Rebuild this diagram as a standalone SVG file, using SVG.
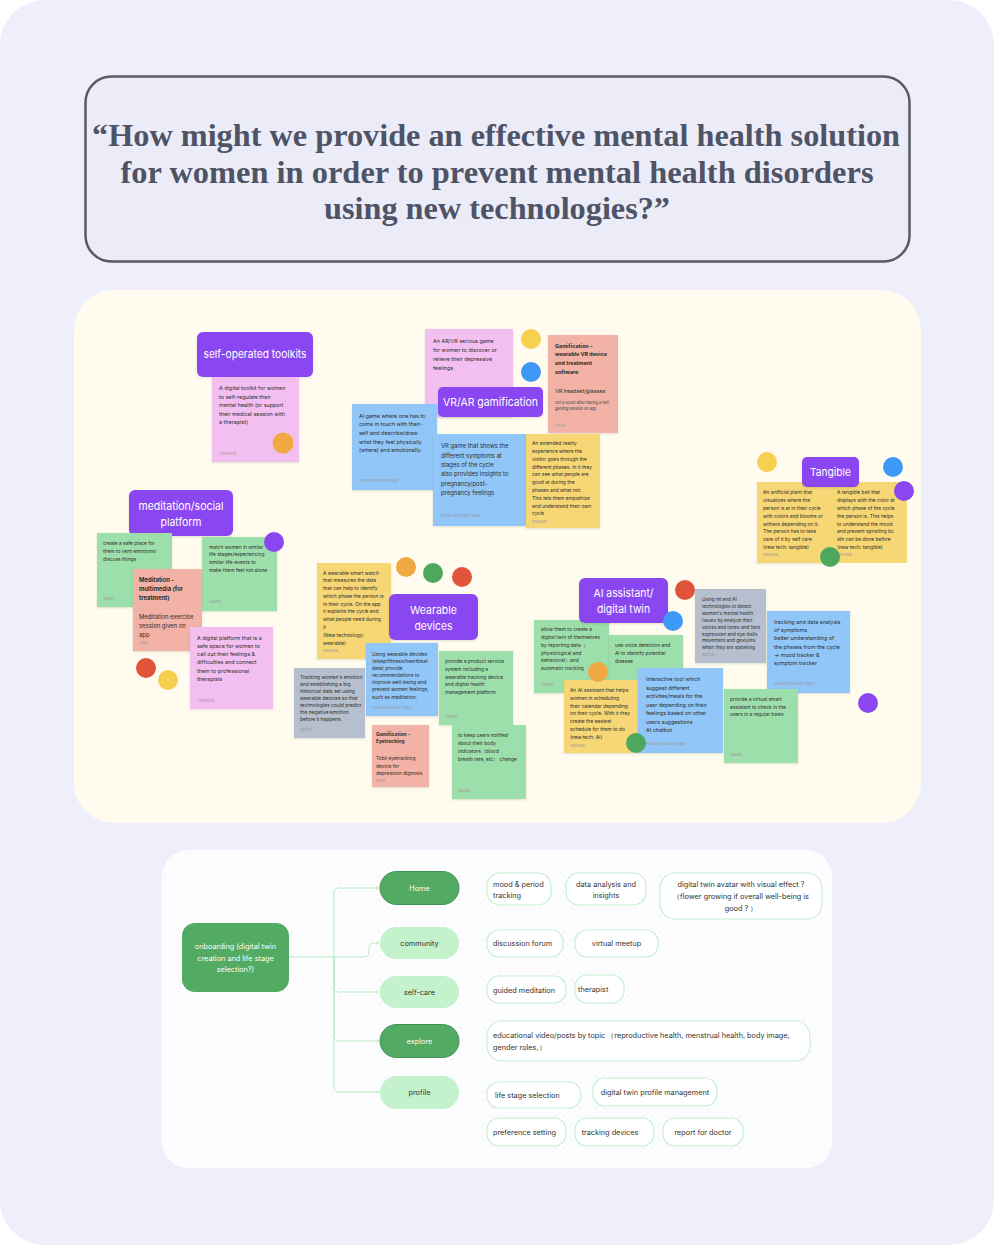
<svg xmlns="http://www.w3.org/2000/svg" width="994" height="1245" viewBox="0 0 994 1245">
<defs>
<style>
.lbl{fill:#8a47f1}
.lt{font-family:Inter,'Liberation Sans',sans-serif;font-size:11px;fill:#fff;text-anchor:middle}
.nt{font-family:Inter,'Liberation Sans',sans-serif;font-size:5.4px;fill:#2e2e2e}
.sm{font-size:4.9px}
.lg{font-size:5.9px}
.b{font-weight:700}
.au{font-family:Inter,'Liberation Sans',sans-serif;font-size:3.8px;fill:#9a9a9a}
.pink{fill:#f3bff0}
.blue{fill:#90c6f8}
.yel{fill:#f7d774}
.grn{fill:#9ddfab}
.sal{fill:#f2b2a5}
.gry{fill:#b5bfcd}
.c-y{fill:#f6d04f}
.c-b{fill:#3e98f5}
.c-o{fill:#f0a843}
.c-g{fill:#4da85e}
.c-r{fill:#e0553a}
.c-p{fill:#8a47f1}
.note{filter:url(#sh)}
.dk{fill:#52aa63;stroke:#3f9150;stroke-width:1}
.lgt{fill:#c3f2cd}
.mt{font-family:Inter,'Liberation Sans',sans-serif;font-size:7.3px;fill:#333;text-anchor:middle}
.mw{fill:#fff}
.leaf{fill:#fff;stroke:#c7f0cf;stroke-width:1.2}
.leaft{font-family:Inter,'Liberation Sans',sans-serif;font-size:7.3px;fill:#333}
.conn{fill:none;stroke:#b6eac1;stroke-width:1}
</style>
<filter id="sh" x="-10%" y="-10%" width="130%" height="130%">
<feDropShadow dx="0" dy="1" stdDeviation="0.8" flood-color="#000" flood-opacity="0.12"/>
</filter>
<pattern id="dots" width="8" height="8" patternUnits="userSpaceOnUse">
<circle cx="4" cy="4" r="0.6" fill="#d9d9e0"/>
</pattern>
<marker id="arr" viewBox="0 0 6 6" refX="5" refY="3" markerWidth="4" markerHeight="4" orient="auto">
<path d="M1,1 L5,3 L1,5" fill="none" stroke="#b6eac1" stroke-width="1"/>
</marker>
</defs>

<rect x="0" y="0" width="994" height="1245" fill="#ffffff"/>
<rect x="0" y="0" width="994" height="1245" rx="45" fill="#efeffb"/>

<g id="header">
<rect x="85.5" y="76.5" width="824" height="185" rx="26" fill="#ececf8" stroke="#5a5a66" stroke-width="2.5"/>
<g font-family="'Liberation Serif',serif" font-weight="700" font-size="31" fill="#4f5366" text-anchor="middle">
<text x="496" y="146" textLength="808" lengthAdjust="spacingAndGlyphs">“How might we provide an effective mental health solution</text>
<text x="497" y="183" textLength="753" lengthAdjust="spacingAndGlyphs">for women in order to prevent mental health disorders</text>
<text x="497" y="219" textLength="346" lengthAdjust="spacingAndGlyphs">using new technologies?”</text>
</g>
</g>

<rect id="board" x="74" y="290" width="847" height="533" rx="40" fill="#fffcef"/>

<!-- self-operated toolkits -->
<g id="self-operated-toolkits">
<rect class="lbl note" x="197" y="332" width="116" height="45" rx="6"/>
<text class="lt" x="255" y="358" textLength="103" lengthAdjust="spacingAndGlyphs">self-operated toolkits</text>
<rect class="pink note" x="212" y="377" width="87" height="85"/>
<text class="nt"><tspan x="219" y="390">A digital toolkit for women</tspan><tspan x="219" y="398.5">to self-regulate their</tspan><tspan x="219" y="407">mental health (or support</tspan><tspan x="219" y="415.5">their medical session with</tspan><tspan x="219" y="424">a therapist)</tspan></text>
<text class="au" x="219" y="455">Chenxi Bi</text>
<circle class="c-o" cx="283" cy="443" r="10.5"/>
</g>

<!-- VR/AR gamification -->
<g id="vr-ar-gamification">
<rect class="pink note" x="425" y="329" width="88" height="88"/>
<text class="nt"><tspan x="433" y="343">An AR/VR serious game</tspan><tspan x="433" y="351.5">for women to discover or</tspan><tspan x="433" y="360.5">relieve their depressive</tspan><tspan x="433" y="369.5">feelings</tspan></text>
<rect class="sal note" x="548" y="335" width="70" height="98"/>
<text class="nt b"><tspan x="555" y="347.7">Gamification -</tspan><tspan x="555" y="356.3">wearable VR device</tspan><tspan x="555" y="365.3">and treatment</tspan><tspan x="555" y="374.3">software</tspan></text>
<text class="nt" x="555" y="393">VR headset/glasses</text>
<text class="au" style="fill:#444"><tspan x="555" y="403.7">Get a score after having a test</tspan><tspan x="555" y="410.3">gaming session on app</tspan></text>
<text class="au" x="555" y="426.5">Alicia</text>
<circle class="c-y" cx="531" cy="339" r="10"/>
<circle class="c-b" cx="531" cy="372" r="10"/>
<rect class="blue note" x="352" y="404" width="85" height="86"/>
<text class="nt"><tspan x="359" y="417.5">AI game where one has to</tspan><tspan x="359" y="426">come in touch with their-</tspan><tspan x="359" y="435">self and describe/draw</tspan><tspan x="359" y="443.5">what they feel physically</tspan><tspan x="359" y="452">(where) and emotionally.</tspan></text>
<text class="au" x="359" y="482">Anna Fernandez-Rajal</text>
<rect class="blue note" x="433" y="434" width="93" height="92"/>
<text class="nt lg"><tspan x="441" y="448">VR game that shows the</tspan><tspan x="441" y="457.5">different symptoms at</tspan><tspan x="441" y="467">stages of the cycle</tspan><tspan x="441" y="476">also provides insights to</tspan><tspan x="441" y="485.5">pregnancy/post-</tspan><tspan x="441" y="495">pregnancy feelings</tspan></text>
<text class="au" x="441" y="517">Anna Fernandez-Rajal</text>
<rect class="yel note" x="526" y="434" width="74" height="94"/>
<text class="nt sm"><tspan x="532" y="444.5">An extended reality</tspan><tspan x="532" y="453">experience where the</tspan><tspan x="532" y="461">visitor goes through the</tspan><tspan x="532" y="468.5">different phases. In it they</tspan><tspan x="532" y="476">can see what people are</tspan><tspan x="532" y="484">good at during the</tspan><tspan x="532" y="492">phases and what not.</tspan><tspan x="532" y="500">This lets them empathize</tspan><tspan x="532" y="507.5">and understand their own</tspan><tspan x="532" y="515">cycle</tspan></text>
<text class="au" x="532" y="522.5">Michelle</text>
<rect class="lbl note" x="438" y="387" width="105" height="30" rx="5"/>
<text class="lt" x="490.5" y="406" textLength="95" lengthAdjust="spacingAndGlyphs">VR/AR gamification</text>
</g>

<!-- Tangible -->
<g id="tangible">
<rect class="yel note" x="757" y="482" width="75" height="81"/>
<rect class="yel" x="832" y="482" width="75" height="81"/>
<text class="nt sm"><tspan x="763" y="494">An artificial plant that</tspan><tspan x="763" y="502">visualizes where the</tspan><tspan x="763" y="510">person is at in their cycle</tspan><tspan x="763" y="518">with colors and blooms or</tspan><tspan x="763" y="525.5">withers depending on it.</tspan><tspan x="763" y="533">The person has to take</tspan><tspan x="763" y="541">care of it by self care</tspan><tspan x="763" y="548.5">(new tech: tangible)</tspan></text>
<text class="au" x="763" y="555.5">Michelle</text>
<text class="nt sm"><tspan x="837" y="494">A tangible ball that</tspan><tspan x="837" y="502">displays with the color at</tspan><tspan x="837" y="510">which phase of the cycle</tspan><tspan x="837" y="518">the person is. This helps</tspan><tspan x="837" y="525.5">to understand the mood</tspan><tspan x="837" y="533">and prevent spiralling bc</tspan><tspan x="837" y="541">sth can be done before</tspan><tspan x="837" y="548.5">(new tech: tangible)</tspan></text>
<text class="au" x="837" y="555.5">Michelle</text>
<rect class="lbl note" x="802" y="457" width="57" height="30" rx="5"/>
<text class="lt" x="830.5" y="476" textLength="41" lengthAdjust="spacingAndGlyphs">Tangible</text>
<circle class="c-y" cx="767" cy="462" r="10"/>
<circle class="c-b" cx="893" cy="467" r="10"/>
<circle class="c-p" cx="904" cy="491" r="10"/>
<circle class="c-g" cx="830" cy="557" r="10"/>
</g>

<!-- meditation/social platform -->
<g id="meditation-social-platform">
<rect class="lbl note" x="129" y="490" width="104" height="46" rx="6"/>
<text class="lt" x="181" y="510" textLength="85" lengthAdjust="spacingAndGlyphs">meditation/social</text>
<text class="lt" x="181" y="525.5" textLength="41" lengthAdjust="spacingAndGlyphs">platform</text>
<rect class="grn note" x="97" y="533" width="75" height="74"/>
<text class="nt sm"><tspan x="103" y="545">create a safe place for</tspan><tspan x="103" y="553">them to vent emotions/</tspan><tspan x="103" y="560.5">discuss things</tspan></text>
<text class="au" x="103" y="600">Xiaolin</text>
<rect class="grn note" x="202" y="537" width="75" height="74"/>
<text class="nt sm"><tspan x="209" y="548.5">match women in similar</tspan><tspan x="209" y="556">life stages/experiencing</tspan><tspan x="209" y="564">similar life-events to</tspan><tspan x="209" y="571.5">make them feel not alone</tspan></text>
<text class="au" x="209" y="603">Xiaolin</text>
<circle class="c-p" cx="274" cy="542" r="10"/>
<rect class="sal note" x="133" y="569" width="69" height="82"/>
<text class="nt b lg"><tspan x="139" y="581.5">Meditation -</tspan><tspan x="139" y="591">multimedia (for</tspan><tspan x="139" y="600">treatment)</tspan></text>
<text class="nt lg"><tspan x="139" y="618.5">Meditation exercise</tspan><tspan x="139" y="627.5">session given on</tspan><tspan x="139" y="636.5">app</tspan></text>
<text class="au" x="139" y="644">Alina</text>
<rect class="pink note" x="190" y="627" width="83" height="82"/>
<text class="nt"><tspan x="197" y="640.3">A digital platform that is a</tspan><tspan x="197" y="648.3">safe space for women to</tspan><tspan x="197" y="656.3">call out their feelings &amp;</tspan><tspan x="197" y="664.3">difficulties and connect</tspan><tspan x="197" y="672.7">them to professional</tspan><tspan x="197" y="681">therapists</tspan></text>
<text class="au" x="197" y="701.5">Chenxi Bi</text>
<circle class="c-r" cx="146" cy="668" r="10"/>
<circle class="c-y" cx="168" cy="680" r="10"/>
</g>

<!-- Wearable devices -->
<g id="wearable-devices">
<rect class="yel note" x="317" y="563" width="74" height="96"/>
<text class="nt sm"><tspan x="323" y="574.5">A wearable smart watch</tspan><tspan x="323" y="582">that measures the data</tspan><tspan x="323" y="590">that can help to identify</tspan><tspan x="323" y="598">which phase the person is</tspan><tspan x="323" y="605.5">in their cycle. On the app</tspan><tspan x="323" y="613">it explains the cycle and</tspan><tspan x="323" y="621">what people need during</tspan><tspan x="323" y="629">it</tspan><tspan x="323" y="637">(New technology:</tspan><tspan x="323" y="644.5">wearable)</tspan></text>
<text class="au" x="323" y="651.5">Michelle</text>
<circle class="c-o" cx="406" cy="567" r="10"/>
<circle class="c-g" cx="433" cy="573" r="10"/>
<circle class="c-r" cx="462" cy="577" r="10"/>
<rect class="lbl note" x="389" y="594" width="89" height="46" rx="6"/>
<text class="lt" x="433.5" y="613.5" textLength="47" lengthAdjust="spacingAndGlyphs">Wearable</text>
<text class="lt" x="433.5" y="629.5" textLength="38" lengthAdjust="spacingAndGlyphs">devices</text>
<rect class="blue note" x="366" y="643" width="72" height="73"/>
<text class="nt sm"><tspan x="372" y="655.5">Using wearable devides</tspan><tspan x="372" y="662.5">(sleep/fitness/heartbeat</tspan><tspan x="372" y="669.5">data) provide</tspan><tspan x="372" y="676.7">recommendations to</tspan><tspan x="372" y="684">improve well-being and</tspan><tspan x="372" y="691">prevent women feelings,</tspan><tspan x="372" y="698.5">such as meditation.</tspan></text>
<text class="au" x="372" y="709">Anna Fernandez-Rajal</text>
<rect class="gry note" x="294" y="668" width="71" height="70"/>
<text class="nt sm"><tspan x="300" y="679">Tracking women's emotion</tspan><tspan x="300" y="686">and establishing a big</tspan><tspan x="300" y="693">historical data set using</tspan><tspan x="300" y="700">wearable devices so that</tspan><tspan x="300" y="707">technologies could predict</tspan><tspan x="300" y="714">the negative emotion</tspan><tspan x="300" y="721.4">before it happens.</tspan></text>
<text class="au" x="300" y="731">patrick</text>
<rect class="sal note" x="372" y="725" width="57" height="62"/>
<text class="nt b sm"><tspan x="376" y="735.8">Gamification -</tspan><tspan x="376" y="743">Eyetracking</tspan></text>
<text class="nt sm"><tspan x="376" y="760">Tobii eyetracking</tspan><tspan x="376" y="767.7">device for</tspan><tspan x="376" y="775.4">depression dignosis</tspan></text>
<text class="au" x="376" y="782">Alina</text>
<rect class="grn note" x="439" y="651" width="74" height="74"/>
<text class="nt sm"><tspan x="445" y="662.8"> provide a product service</tspan><tspan x="445" y="670.8">system including a</tspan><tspan x="445" y="678.5">wearable  tracking device</tspan><tspan x="445" y="686">and digital health</tspan><tspan x="445" y="693.8">management platform</tspan></text>
<text class="au" x="445" y="717.5">Xiaolin</text>
<rect class="grn note" x="452" y="725" width="74" height="74"/>
<text class="nt sm"><tspan x="458" y="736.8">to keep users notified</tspan><tspan x="458" y="744.5">about their body</tspan><tspan x="458" y="752.5">indicators（blood，</tspan><tspan x="458" y="760.5">breath rate, etc） change</tspan></text>
<text class="au" x="458" y="791.5">Xiaolin</text>
</g>

<!-- AI assistant / digital twin -->
<g id="ai-assistant-digital-twin">
<rect class="gry note" x="695" y="589" width="71" height="74"/>
<text class="nt" style="font-size:4.7px"><tspan x="702" y="600.7">Using ml and AI</tspan><tspan x="702" y="607.7">technologies to detect</tspan><tspan x="702" y="614.7">women's mental health</tspan><tspan x="702" y="621.7">issues by analyze their</tspan><tspan x="702" y="628.7">voices and tones and face</tspan><tspan x="702" y="635.7">expression and eye-balls</tspan><tspan x="702" y="642.4">movement and gestures</tspan><tspan x="702" y="649.4">when they are speaking.</tspan></text>
<text class="au" x="702" y="656.3">patrick</text>
<rect class="blue note" x="767" y="611" width="83" height="82"/>
<text class="nt"><tspan x="774" y="623.7">tracking and data analysis</tspan><tspan x="774" y="632">of symptoms</tspan><tspan x="774" y="640.3">better understanding of</tspan><tspan x="774" y="648.7">the phases from the cycle</tspan><tspan x="774" y="657">→ mood tracker &amp;</tspan><tspan x="774" y="665.3">symptom tracker</tspan></text>
<text class="au" x="774" y="685.3">Anna Fernandez-Rajal</text>
<rect class="grn note" x="724" y="689" width="74" height="74"/>
<text class="nt sm"><tspan x="730" y="701">provide a virtual smart</tspan><tspan x="730" y="708.7">assistant to check in the</tspan><tspan x="730" y="716.4">users in a regular basis</tspan></text>
<text class="au" x="730" y="755.6">Xiaolin</text>
<rect class="grn note" x="534" y="620" width="75" height="73"/>
<text class="nt sm"><tspan x="541" y="631">allow them to create a</tspan><tspan x="541" y="639">digital twin of themselves</tspan><tspan x="541" y="647">by reporting data（</tspan><tspan x="541" y="654.7">physiological and</tspan><tspan x="541" y="662.4">behavioral）and</tspan><tspan x="541" y="670">automatic tracking</tspan></text>
<text class="au" x="541" y="685.6">Xiaolin</text>
<rect class="grn note" x="609" y="635" width="74" height="74"/>
<text class="nt sm"><tspan x="615" y="647">use voice detection and</tspan><tspan x="615" y="654.7">AI to identify potential</tspan><tspan x="615" y="662.7">disease</tspan></text>
<rect class="lbl note" x="579" y="578" width="89" height="45" rx="6"/>
<text class="lt" x="623.5" y="596.5" textLength="60" lengthAdjust="spacingAndGlyphs">AI assistant/</text>
<text class="lt" x="623.5" y="612.5" textLength="53" lengthAdjust="spacingAndGlyphs">digital twin</text>
<circle class="c-r" cx="685" cy="590" r="10"/>
<circle class="c-b" cx="673" cy="621" r="10"/>
<rect class="yel note" x="564" y="680" width="74" height="73"/>
<text class="nt sm"><tspan x="570" y="692">An AI assistant that helps</tspan><tspan x="570" y="699.7">women in scheduling</tspan><tspan x="570" y="707.7">their calendar depending</tspan><tspan x="570" y="715.4">on their cycle. With it they</tspan><tspan x="570" y="723.4">create the easiest</tspan><tspan x="570" y="731">schedule for them to do</tspan><tspan x="570" y="738.7">(new tech: AI)</tspan></text>
<text class="au" x="570" y="747">Michelle</text>
<rect class="blue note" x="638" y="668" width="85" height="85"/>
<text class="nt"><tspan x="646" y="681.3">Interactive tool which</tspan><tspan x="646" y="689.7">suggest different</tspan><tspan x="646" y="698.3">activites/meals for the</tspan><tspan x="646" y="706.7">user depending on their</tspan><tspan x="646" y="715.3">feelings based on other</tspan><tspan x="646" y="723.7">users suggestions</tspan><tspan x="646" y="732.3">AI chatbot</tspan></text>
<text class="au" x="646" y="744.6">Anna Fernandez-Rajal</text>
<circle class="c-o" cx="598" cy="672" r="10"/>
<circle class="c-g" cx="636" cy="743" r="10"/>
<circle class="c-p" cx="868" cy="703" r="10"/>
</g>

<!-- bottom mind map -->
<rect id="map-panel" x="162" y="850" width="670" height="318" rx="26" fill="#fdfdff"/>
<rect x="162" y="850" width="670" height="318" rx="26" fill="url(#dots)"/>

<g id="connectors">
<path class="conn" d="M289,957 H334"/>
<path class="conn" marker-end="url(#arr)" d="M334,957 V893 Q334,888 339,888 H379"/>
<path class="conn" marker-end="url(#arr)" d="M334,957 H364 Q369,957 369,952 V948 Q369,943 374,943 H379"/>
<path class="conn" marker-end="url(#arr)" d="M334,957 V987 Q334,992 339,992 H379"/>
<path class="conn" marker-end="url(#arr)" d="M334,957 V1036 Q334,1041 339,1041 H379"/>
<path class="conn" marker-end="url(#arr)" d="M334,957 V1087 Q334,1092 339,1092 H379"/>
</g>

<g id="onboarding">
<rect x="182" y="923" width="107" height="69" rx="13" fill="#52aa63"/>
<text class="mt mw"><tspan x="235.5" y="949.3">onboarding (digital twin</tspan><tspan x="235.5" y="960.6">creation and life stage</tspan><tspan x="235.5" y="971.9">selection?)</tspan></text>
</g>
<g id="home"><rect class="dk" x="380" y="871.5" width="79" height="33" rx="16.5"/><text class="mt mw" x="419.5" y="890.7">Home</text></g>
<g id="community"><rect class="lgt" x="380" y="927" width="79" height="32" rx="16"/><text class="mt" x="419.5" y="945.7">community</text></g>
<g id="self-care"><rect class="lgt" x="380" y="976" width="79" height="32" rx="16"/><text class="mt" x="419.5" y="994.7">self-care</text></g>
<g id="explore"><rect class="dk" x="380" y="1024.5" width="79" height="33" rx="16.5"/><text class="mt mw" x="419.5" y="1043.7">explore</text></g>
<g id="profile"><rect class="lgt" x="380" y="1076" width="79" height="33" rx="16.5"/><text class="mt" x="419.5" y="1095">profile</text></g>

<g id="mood-period-tracking"><rect class="leaf" x="487" y="873" width="64" height="32" rx="13"/><text class="leaft"><tspan x="493" y="886.5">mood &amp; period</tspan><tspan x="493" y="898.3">tracking</tspan></text></g>
<g id="data-analysis"><rect class="leaf" x="566" y="873" width="80" height="32" rx="13"/><text class="leaft" text-anchor="middle"><tspan x="606" y="886.5">data analysis and</tspan><tspan x="606" y="898.3">insights</tspan></text></g>
<g id="digital-twin-avatar"><rect class="leaf" x="660" y="873" width="162" height="46" rx="15"/><text class="leaft" text-anchor="middle"><tspan x="741" y="887">digital twin avatar with visual effect ?</tspan><tspan x="741" y="899">（flower growing if overall well-being is</tspan><tspan x="741" y="910.7">good ? ）</tspan></text></g>
<g id="discussion-forum"><rect class="leaf" x="487" y="930" width="76" height="27" rx="12"/><text class="leaft" x="493" y="946.3">discussion forum</text></g>
<g id="virtual-meetup"><rect class="leaf" x="575" y="930" width="83" height="27" rx="12"/><text class="leaft" x="616.5" y="946.3" text-anchor="middle">virtual meetup</text></g>
<g id="guided-meditation"><rect class="leaf" x="487" y="976" width="79" height="27" rx="12"/><text class="leaft" x="493" y="993">guided meditation</text></g>
<g id="therapist"><rect class="leaf" x="575" y="975" width="49" height="28" rx="12"/><text class="leaft" x="578" y="991.5">therapist</text></g>
<g id="educational-video"><rect class="leaf" x="487" y="1021" width="323" height="40" rx="15"/><text class="leaft"><tspan x="493" y="1037.8">educational video/posts by topic （reproductive health, menstrual health, body image,</tspan><tspan x="493" y="1049.7">gender roles,）</tspan></text></g>
<g id="life-stage-selection"><rect class="leaf" x="487" y="1082" width="94" height="26" rx="12"/><text class="leaft" x="495" y="1098">life stage selection</text></g>
<g id="digital-twin-profile"><rect class="leaf" x="593" y="1078" width="124" height="28" rx="12"/><text class="leaft" x="655" y="1094.7" text-anchor="middle">digital twin profile management</text></g>
<g id="preference-setting"><rect class="leaf" x="487" y="1118" width="79" height="28" rx="12"/><text class="leaft" x="493" y="1135">preference setting</text></g>
<g id="tracking-devices"><rect class="leaf" x="575" y="1118" width="79" height="28" rx="12"/><text class="leaft" x="610" y="1135" text-anchor="middle">tracking devices</text></g>
<g id="report-for-doctor"><rect class="leaf" x="663" y="1118" width="80" height="28" rx="12"/><text class="leaft" x="703" y="1135" text-anchor="middle">report for doctor</text></g>
</svg>
